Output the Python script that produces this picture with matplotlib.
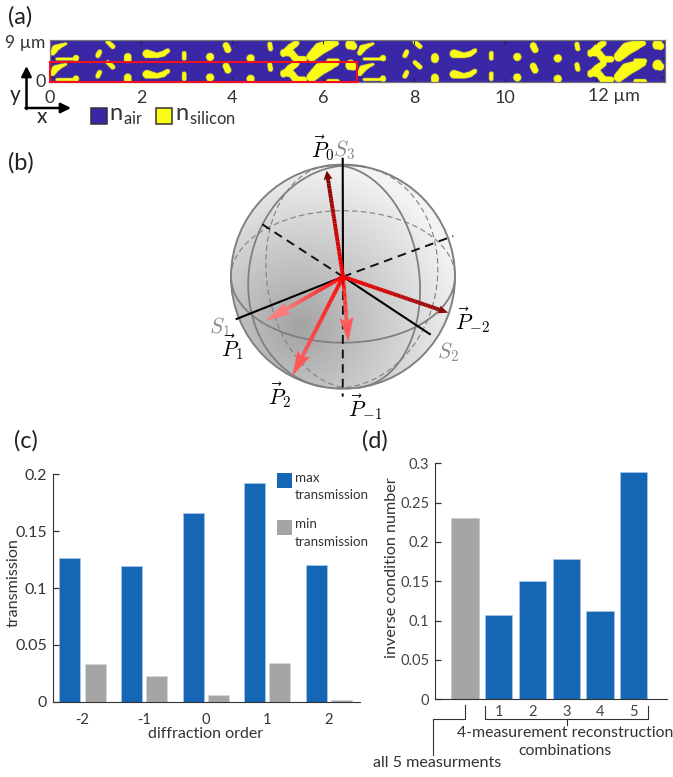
import numpy as np
import matplotlib
matplotlib.use('Agg')
import matplotlib.pyplot as plt
from matplotlib.colors import ListedColormap, to_rgb
from matplotlib.collections import LineCollection
from matplotlib.patches import Circle, Polygon, Rectangle

plt.rcParams['font.family'] = ['Lato', 'DejaVu Sans']
plt.rcParams['mathtext.fontset'] = 'cm'

W, H = 673, 777
BLUE = '#1566b5'
GREY = '#a5a5a5'
INK = '#333333'

# (c) transmission per diffraction order
orders = [-2, -1, 0, 1, 2]
order_labels = ['-2', '-1', '0', '1', '2']
max_trans = [0.126, 0.119, 0.166, 0.192, 0.120]
min_trans = [0.033, 0.023, 0.006, 0.034, 0.0015]

# (d) inverse condition number
combos = [0, 1, 2, 3, 4, 5]
combo_labels = ['', '1', '2', '3', '4', '5']
inv_cond = [0.230, 0.107, 0.150, 0.178, 0.112, 0.289]

# (a) one unit cell of the grating, each blob is a chain of (x, y, r) in um
cell_w, cell_h = 6.75, 0.45
blobs = [
    [(0.06, 0.19, 0.06), (0.12, 0.29, 0.08), (0.24, 0.35, 0.05), (0.35, 0.39, 0.03)],
    [(0.15, 0.055, 0.03), (0.52, 0.055, 0.03), (0.57, 0.075, 0.07)],
    [(1.27, 0.43, 0.05), (1.38, 0.33, 0.055)],
    [(1.09, 0.21, 0.055), (1.05, 0.13, 0.055)],
    [(1.71, 0.10, 0.085), (1.71, 0.05, 0.085)],
    [(2.13, 0.17, 0.095), (2.35, 0.135, 0.06), (2.49, 0.17, 0.065), (2.59, 0.24, 0.05)],
    [(2.95, 0.18, 0.05), (2.95, 0.07, 0.05)],
    [(3.52, 0.10, 0.09)],
    [(3.87, 0.35, 0.075), (3.91, 0.26, 0.075)],
    [(4.41, 0.07, 0.09)],
    [(4.83, 0.38, 0.055), (4.85, 0.28, 0.055)],
    [(5.41, 0.40, 0.07), (5.27, 0.30, 0.08), (5.13, 0.17, 0.07)],
    [(5.13, 0.20, 0.07), (5.31, 0.18, 0.08), (5.41, 0.05, 0.08), (5.58, 0.05, 0.07)],
    [(5.75, 0.11, 0.11), (5.93, 0.28, 0.14), (6.13, 0.36, 0.11), (6.29, 0.40, 0.06)],
    [(6.13, 0.01, 0.06), (6.31, 0.01, 0.06)],
    [(6.61, 0.37, 0.12), (6.66, 0.34, 0.09)],
]

# (a) ticks
a_ticks = [0, 2, 4, 6, 8, 10]

# (b) sphere geometry, picture coordinates
centre = (343.0, 276.7)
radius = 112.0
s_solid = [(235.7, 319.3), (430.7, 334.7), (342.7, 157.7)]
s_dashed = [(453.3, 236.0), (258.3, 221.7), (342.7, 396.7)]
p_tips = [(326.7, 170.7), (448.3, 312.7), (348.3, 341.7), (265.7, 321.0), (292.3, 376.0)]
p_colors = ['#7a0000', '#8a0a0a', '#ff5a5a', '#ff7a7a', '#ff5a5a']
p_head = [(9, 9), (10, 8), (24, 14), (26, 13), (25, 14)]
# bulge direction and half width of the three projected great circles
circle_dirs = [(0.0, 1.0), (-0.98, -0.2), (0.99, -0.15)]
circle_bulge = [66, 94, 76]


def px_axes(left, top, right, bottom):
    return fig.add_axes([left / W, 1 - bottom / H, (right - left) / W, (bottom - top) / H])


def grating_mask(nx, ny, xmax, ymax):
    x = (np.arange(nx) + 0.5) * xmax / nx
    y = (np.arange(ny) + 0.5) * ymax / ny
    xx, yy = np.meshgrid(x, y)
    mask = np.zeros(xx.shape, dtype=bool)
    for col in range(2):
        for row in range(2):
            for chain in blobs:
                pts = [(p[0] + col * cell_w, p[1] + row * cell_h, p[2]) for p in chain]
                for i, p in enumerate(pts):
                    q = pts[min(i + 1, len(pts) - 1)]
                    dx, dy = q[0] - p[0], q[1] - p[1]
                    t = ((xx - p[0]) * dx + (yy - p[1]) * dy) / max(dx * dx + dy * dy, 1e-9)
                    t = np.clip(t, 0, 1)
                    d = np.hypot(xx - p[0] - t * dx, yy - p[1] - t * dy)
                    mask |= d <= p[2] + t * (q[2] - p[2])
    return mask


fig = plt.figure(figsize=(W / 100, H / 100), dpi=100)

# ---- panel a
ax_a = px_axes(50, 40, 665, 82)
xmax_a, ymax_a = 615 / 45.5, 42 / 45.5
ax_a.imshow(grating_mask(1230, 84, xmax_a, ymax_a), origin='lower', aspect='auto',
            extent=(0, xmax_a, 0, ymax_a), cmap=ListedColormap(['#3b27a6', '#f9fb15']),
            interpolation='bilinear')
ax_a.set_xticks(a_ticks + [12])
ax_a.set_xticklabels([str(t) for t in a_ticks] + [''], fontsize=13, color=INK)
ax_a.set_yticks([0.116, 0.527])
ax_a.set_yticklabels([])
ax_a.tick_params(direction='in', length=3, width=0.7, top=True, right=True, pad=6, color='#222222')
for side in ax_a.spines.values():
    side.set_color('#777777')
    side.set_linewidth(0.9)
ax_a.add_patch(Rectangle((0, 0), 6.75, 20.5 / 45.5, fill=False, ec='#f01020', lw=1.5,
                         clip_on=False, zorder=5))

# ---- panel c
ax_c = px_axes(52.7, 474.3, 360, 701.7)
x_c = np.array(orders)
ax_c.bar(x_c - 0.2, max_trans, width=0.34, color=BLUE, edgecolor='#a9c8ea', linewidth=0.5)
ax_c.bar(x_c + 0.21, min_trans, width=0.34, color=GREY, edgecolor='#d8d8d8', linewidth=0.5)
ax_c.set_xlim(-2.48, 2.51)
ax_c.set_ylim(0, 0.2)
ax_c.set_xticks(orders)
ax_c.set_xticklabels(order_labels)
ax_c.set_yticks([0, 0.05, 0.1, 0.15, 0.2])
ax_c.set_yticklabels(['0', '0.05', '0.1', '0.15', '0.2'])
ax_c.tick_params(axis='x', length=0, pad=8, labelsize=10.5, labelcolor=INK)
ax_c.tick_params(axis='y', direction='in', length=4, width=0.9, pad=4, labelsize=11.5,
                 labelcolor=INK, color=INK)
ax_c.spines[['top', 'right']].set_visible(False)
ax_c.spines[['left', 'bottom']].set_color(INK)

# ---- panel d
ax_d = px_axes(435, 463.3, 666.7, 699.3)
ax_d.bar(combos, inv_cond, width=0.81, color=[GREY] + [BLUE] * 5,
         edgecolor=['#c8c8c8'] + ['#a9c8ea'] * 5, linewidth=0.5)
ax_d.set_xlim(-0.89, 5.98)
ax_d.set_ylim(0, 0.3)
ax_d.set_xticks(combos)
ax_d.set_xticklabels(combo_labels)
ax_d.set_yticks([0, 0.05, 0.1, 0.15, 0.2, 0.25, 0.3])
ax_d.set_yticklabels(['0', '0.05', '0.1', '0.15', '0.2', '0.25', '0.3'])
ax_d.tick_params(axis='x', length=0, pad=4, labelsize=10.5, labelcolor='#444444')
ax_d.tick_params(axis='y', direction='in', length=4, width=0.9, pad=4, labelsize=10.5,
                 labelcolor='#444444', color=INK)
ax_d.spines[['top', 'right']].set_visible(False)
ax_d.spines[['left', 'bottom']].set_color(INK)

# ---- everything else sits on one overlay in picture coordinates
ov = fig.add_axes([0, 0, 1, 1], facecolor='none')
ov.set_axis_off()

# sphere shading
cx, cy = centre
gx, gy = np.meshgrid(np.linspace(cx - radius, cx + radius, 300),
                     np.linspace(cy - radius, cy + radius, 300))
dist = np.hypot(gx - 300, gy - 327) / (2 * radius)
shade = np.clip(0.64 + 0.42 * dist, 0, 0.95)
face = ov.imshow(shade, cmap='gray', vmin=0, vmax=1, aspect='auto', zorder=1,
                 extent=(cx - radius, cx + radius, cy + radius, cy - radius))
face.set_clip_path(Circle(centre, radius, transform=ov.transData))
ov.set_xlim(0, W)
ov.set_ylim(H, 0)
ov.add_patch(Circle(centre, radius, fill=False, ec='#808080', lw=1.4, zorder=3))

for u, b in zip(circle_dirs, circle_bulge):
    u = np.array(u)
    v = np.array([-u[1], u[0]])
    t = np.linspace(0, np.pi, 200)
    front = np.outer(np.sin(t) * b, u) + np.outer(np.cos(t) * radius, v) + np.array(centre)
    back = np.outer(-np.sin(t) * b, u) + np.outer(np.cos(t) * radius, v) + np.array(centre)
    ov.plot(front[:, 0], front[:, 1], color='#808080', lw=1.3, zorder=3)
    ov.plot(back[:, 0], back[:, 1], color='#808080', lw=0.8, ls=(0, (5, 3)), zorder=2)

for tip in s_solid:
    ov.plot([cx, tip[0]], [cy, tip[1]], color='black', lw=1.5, zorder=4, solid_capstyle='butt')
for tip in s_dashed:
    ov.plot([cx, tip[0]], [cy, tip[1]], color='#111111', lw=1.4, ls=(0, (4.5, 3)), zorder=4)

for tip, col, (hl, hw) in zip(p_tips, p_colors, p_head):
    tip = np.array(tip)
    base = np.array(centre)
    u = (tip - base) / np.hypot(*(tip - base))
    n = np.array([-u[1], u[0]])
    neck = tip - u * hl * 0.85
    s = np.linspace(0, 1, 40)
    pts = base + np.outer(s, neck - base)
    segs = np.stack([pts[:-1], pts[1:]], axis=1)
    c0, c1 = np.array(to_rgb('#ff0000')), np.array(to_rgb(col))
    ov.add_collection(LineCollection(segs, colors=[c0 + (c1 - c0) * v for v in s[:-1]],
                                     linewidths=2.8, zorder=6, capstyle='butt'))
    ov.add_patch(Polygon([tip, tip - u * hl + n * hw / 2, neck, tip - u * hl - n * hw / 2],
                         closed=True, fc=col, ec='none', zorder=7))

sphere_labels = [
    (323, 148, r'$\vec{P}_0$', 'black'), (344, 150, r'$S_3$', '#8c8c8c'),
    (220, 327, r'$S_1$', '#8c8c8c'), (233, 347, r'$\vec{P}_1$', 'black'),
    (280, 395, r'$\vec{P}_2$', 'black'), (365, 407, r'$\vec{P}_{-1}$', 'black'),
    (473, 320, r'$\vec{P}_{-2}$', 'black'), (448, 352, r'$S_2$', '#8c8c8c'),
]
for lx, ly, s, col in sphere_labels:
    ov.text(lx, ly, s, fontsize=15.5, color=col, ha='center', va='center', zorder=8)

# panel letters
for lx, ly, s in [(8, 17, '(a)'), (8, 163, '(b)'), (14, 441, '(c)'), (362, 441, '(d)')]:
    ov.text(lx, ly, s, fontsize=17, color='#222222', va='center')

# panel a annotations
ov.text(45, 43, '9 µm', fontsize=12.5, color=INK, ha='right', va='center')
ov.text(41, 82, '0', fontsize=13, color=INK, ha='center', va='center')
ov.text(588, 96, '12 µm', fontsize=13, color=INK, va='center')
ov.annotate('', xy=(26.5, 66), xytext=(26.5, 109),
            arrowprops=dict(arrowstyle='-|>', color='black', lw=1.8, shrinkA=0, shrinkB=0,
                            mutation_scale=15))
ov.annotate('', xy=(71, 108), xytext=(25.5, 108),
            arrowprops=dict(arrowstyle='-|>', color='black', lw=1.8, shrinkA=0, shrinkB=0,
                            mutation_scale=15))
ov.text(15, 95, 'y', fontsize=15, color='#222222', ha='center', va='center')
ov.text(42, 117, 'x', fontsize=15, color='#222222', ha='center', va='center')
ov.add_patch(Rectangle((91, 108), 15.5, 15.5, fc='#3b27a6', ec='#333333', lw=1.1))
ov.add_patch(Rectangle((156, 108), 15.5, 15.5, fc='#f9fb15', ec='#333333', lw=1.1))
ov.text(109, 116, r'n$_{\mathregular{air}}$', fontsize=17, color=INK, va='center')
ov.text(175, 116, r'n$_{\mathregular{silicon}}$', fontsize=17, color=INK, va='center')

# panel c annotations
ov.text(14, 583, 'transmission', fontsize=11.6, color=INK, rotation=90, ha='center', va='center')
ov.text(205.7, 734, 'diffraction order', fontsize=11.5, color=INK, ha='center', va='center')
ov.add_patch(Rectangle((277, 473), 15, 15, fc=BLUE, ec='none'))
ov.add_patch(Rectangle((277, 520), 15, 15, fc=GREY, ec='none'))
for ly, s in [(477.7, 'max'), (494.7, 'transmission'), (524, 'min'), (541.7, 'transmission')]:
    ov.text(295, ly, s, fontsize=9.6, color=INK, va='center')

# panel d annotations
ov.text(391.7, 568, 'inverse condition number', fontsize=11.6, color=INK, rotation=90,
        ha='center', va='center')
ov.text(565, 733, '4-measurement reconstruction', fontsize=11.4, color=INK, ha='center', va='center')
ov.text(565, 750.7, 'combinations', fontsize=11.4, color=INK, ha='center', va='center')
ov.text(436.7, 762.7, 'all 5 measurments', fontsize=11.6, color=INK, ha='center', va='center')
ov.plot([485, 485, 648, 648], [706, 719, 719, 706], color=INK, lw=0.8)
ov.plot([566.7, 566.7], [719, 725], color=INK, lw=0.8)
ov.plot([465.3, 465.3, 432.7, 432.7], [705, 719, 719, 755], color=INK, lw=0.8)

fig.savefig('out.png', dpi=100)
